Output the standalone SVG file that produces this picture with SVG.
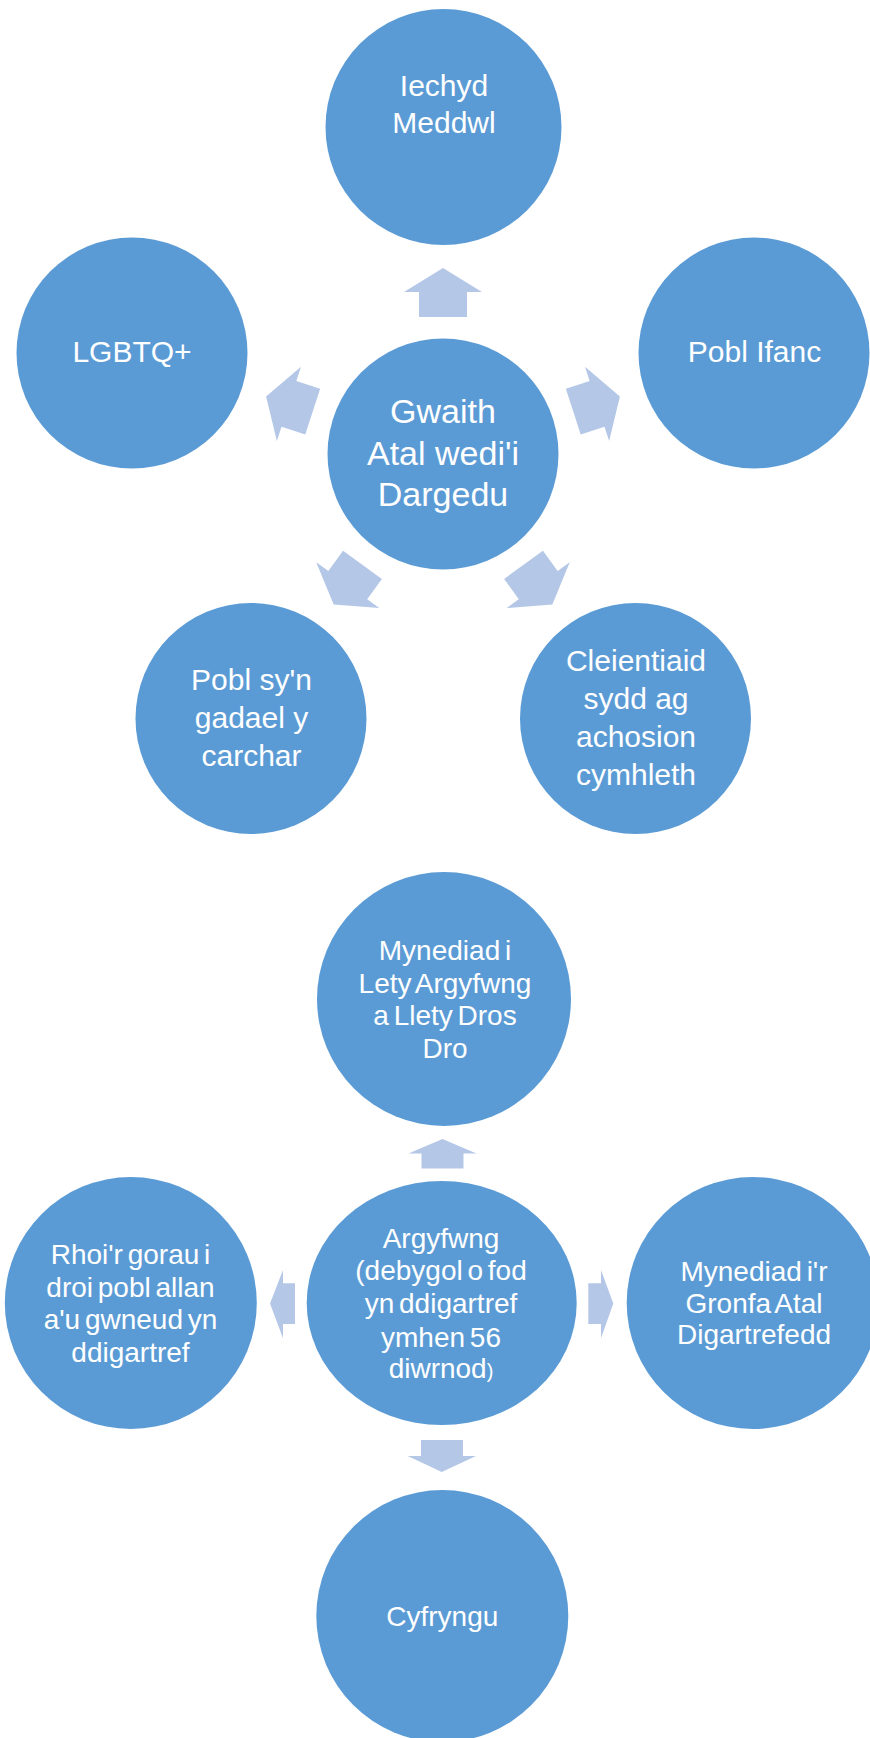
<svg xmlns="http://www.w3.org/2000/svg" xmlns:xlink="http://www.w3.org/1999/xlink" width="870" height="1738" viewBox="0 0 870 1738">
<style>
.c{fill:#5b9bd5}
.a{fill:#b4c7e7}
.t{font-family:"Liberation Sans",Arial,sans-serif;fill:#ffffff;text-anchor:middle}
.t30{font-size:30px}
.t34{font-size:34px}
.t28{font-size:28px;word-spacing:-3px}
</style>
<defs>
<polygon id="upArrow" class="a" points="0,-186 39,-162 24,-162 24,-137 -24,-137 -24,-162 -39,-162"/>
</defs>
<rect width="870" height="1738" fill="#ffffff"/>
<g id="connectors">
<g transform="translate(443,454)">
<use xlink:href="#upArrow"/>
<use xlink:href="#upArrow" transform="rotate(72)"/>
<use xlink:href="#upArrow" transform="rotate(144)"/>
<use xlink:href="#upArrow" transform="rotate(-144)"/>
<use xlink:href="#upArrow" transform="rotate(-72)"/>
</g>
<polygon class="a" points="442.5,1139 476.5,1153.5 463.5,1153.5 463.5,1168.5 421.5,1168.5 421.5,1153.5 408.5,1153.5"/>
<polygon class="a" points="421,1440 463,1440 463,1456 476,1456 441.8,1472 407.7,1456 421,1456"/>
<polygon class="a" points="270,1303.5 283,1270 283,1283.3 295,1283.3 295,1324 283,1324 283,1338.3"/>
<polygon class="a" points="588.3,1283.3 601,1283.3 601,1270 613.3,1303.5 601,1338.3 601,1324 588.3,1324"/>
</g>
<g id="node-gwaith">
<circle class="c" cx="443" cy="454" r="115.5"/>
<text class="t t34"><tspan x="443" y="423">Gwaith</tspan><tspan x="443" y="464.5">Atal wedi'i</tspan><tspan x="443" y="506">Dargedu</tspan></text>
</g>
<g id="node-iechyd">
<circle class="c" cx="443.5" cy="127" r="118"/>
<text class="t t30"><tspan x="444" y="95.5">Iechyd</tspan><tspan x="444" y="133.2">Meddwl</tspan></text>
</g>
<g id="node-pobl-ifanc">
<circle class="c" cx="754" cy="353" r="115.5"/>
<text class="t t30"><tspan x="754.5" y="362">Pobl Ifanc</tspan></text>
</g>
<g id="node-lgbtq">
<circle class="c" cx="132" cy="353" r="115.5"/>
<text class="t t30"><tspan x="132" y="362">LGBTQ+</tspan></text>
</g>
<g id="node-carchar">
<circle class="c" cx="251" cy="718.5" r="115.5"/>
<text class="t t30"><tspan x="251.5" y="690">Pobl sy'n</tspan><tspan x="251.5" y="728">gadael y</tspan><tspan x="251.5" y="766">carchar</tspan></text>
</g>
<g id="node-cleientiaid">
<circle class="c" cx="635.5" cy="718.5" r="115.5"/>
<text class="t t30"><tspan x="636" y="670.5">Cleientiaid</tspan><tspan x="636" y="709">sydd ag</tspan><tspan x="636" y="747">achosion</tspan><tspan x="636" y="785">cymhleth</tspan></text>
</g>
<g id="node-argyfwng">
<ellipse class="c" cx="441.7" cy="1303" rx="135" ry="122"/>
<text class="t t28"><tspan x="441" y="1247.7">Argyfwng</tspan><tspan x="441" y="1280">(debygol o fod</tspan><tspan x="441" y="1313.3">yn ddigartref</tspan><tspan x="441" y="1346.7">ymhen 56</tspan><tspan x="441" y="1378.3">diwrnod<tspan font-size="20px">)</tspan></tspan></text>
</g>
<g id="node-llety">
<circle class="c" cx="444" cy="999" r="127"/>
<text class="t t28"><tspan x="445" y="960.4">Mynediad i</tspan><tspan x="445" y="992.6">Lety Argyfwng</tspan><tspan x="445" y="1025">a Llety Dros</tspan><tspan x="445" y="1057.8">Dro</tspan></text>
</g>
<g id="node-rhoi">
<circle class="c" cx="130.8" cy="1303" r="126"/>
<text class="t t28"><tspan x="130.5" y="1264">Rhoi'r gorau i</tspan><tspan x="130.5" y="1296.7">droi pobl allan</tspan><tspan x="130.5" y="1329.3">a'u gwneud yn</tspan><tspan x="130.5" y="1362.3">ddigartref</tspan></text>
</g>
<g id="node-gronfa">
<circle class="c" cx="752.7" cy="1303" r="126"/>
<text class="t t28"><tspan x="754" y="1280.7">Mynediad i'r</tspan><tspan x="754" y="1312.7">Gronfa Atal</tspan><tspan x="754" y="1344.3">Digartrefedd</tspan></text>
</g>
<g id="node-cyfryngu">
<circle class="c" cx="442.3" cy="1616" r="126"/>
<text class="t t28"><tspan x="442.3" y="1625.8">Cyfryngu</tspan></text>
</g>
</svg>
